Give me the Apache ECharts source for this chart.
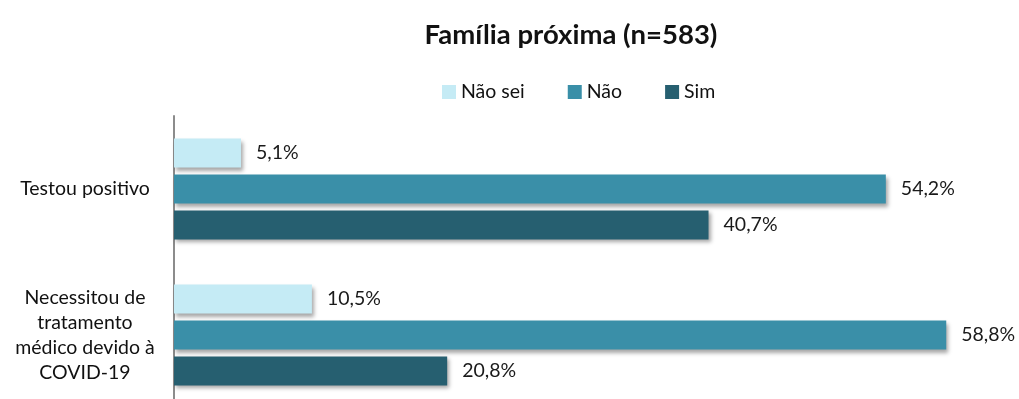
<!DOCTYPE html>
<html>
<head>
<meta charset="utf-8">
<script src="https://cdn.jsdelivr.net/npm/echarts@6/dist/echarts.min.js"></script>
<style>
  html, body { margin: 0; padding: 0; background: #fff; }
  #chart { width: 1019px; height: 399px; }
</style>
</head>
<body>
<div id="chart"></div>
<script>
// Categories (top to bottom) and percentages for each answer
const categories = ['Testou positivo', 'Necessitou de\ntratamento\nmédico devido à\nCOVID-19'];
const naoSei = [5.1, 10.5];
const nao = [54.2, 58.8];
const sim = [40.7, 20.8];
const legendOrder = ['Não sei', 'Não', 'Sim'];

const FONT = 'Lato, "Open Sans", sans-serif';
const fmt = p => p.value.toFixed(1).replace('.', ',') + '%';

const shadow = {
  shadowColor: 'rgba(0,0,0,0.35)',
  shadowBlur: 4,
  shadowOffsetX: 2,
  shadowOffsetY: 3
};

function barSeries(name, data, color) {
  return {
    name: name,
    type: 'bar',
    data: data,
    barWidth: 29,
    barGap: '24%',
    itemStyle: Object.assign({ color: color }, shadow),
    label: {
      show: true,
      position: 'right',
      distance: 15,
      formatter: fmt,
      color: '#1a1a1a',
      fontSize: 19.5,
      fontFamily: FONT
    }
  };
}

const chart = echarts.init(document.getElementById('chart'), null, { renderer: 'canvas' });
chart.setOption({
  animation: false,
  backgroundColor: '#fff',
  title: {
    text: 'Família próxima (n=583)',
    left: 566,
    textAlign: 'center',
    top: 16,
    textStyle: { fontFamily: FONT, fontSize: 27.5, fontWeight: 'bold', color: '#111' }
  },
  legend: {
    data: legendOrder,
    left: 437,
    top: 77,
    icon: 'rect',
    itemWidth: 14,
    itemHeight: 14,
    itemGap: 43,
    textStyle: { fontFamily: FONT, fontSize: 19.5, color: '#111' }
  },
  grid: {
    left: 174, right: 57, top: 116, height: 292,
    containLabel: false,
    outerBoundsMode: 'none'
  },
  xAxis: {
    type: 'value',
    min: 0,
    max: 60,
    show: false
  },
  yAxis: {
    type: 'category',
    data: categories,
    inverse: true,
    axisLine: { show: true, lineStyle: { color: '#8c8c8c', width: 2 } },
    axisTick: { show: false },
    axisLabel: {
      align: 'center',
      margin: 89,
      fontFamily: FONT,
      fontSize: 19.5,
      lineHeight: 25,
      color: '#111'
    }
  },
  series: [
    barSeries('Não sei', naoSei, '#C5EBF5'),
    barSeries('Não', nao, '#3A8FA8'),
    barSeries('Sim', sim, '#265F70')
  ]
});
</script>
</body>
</html>
